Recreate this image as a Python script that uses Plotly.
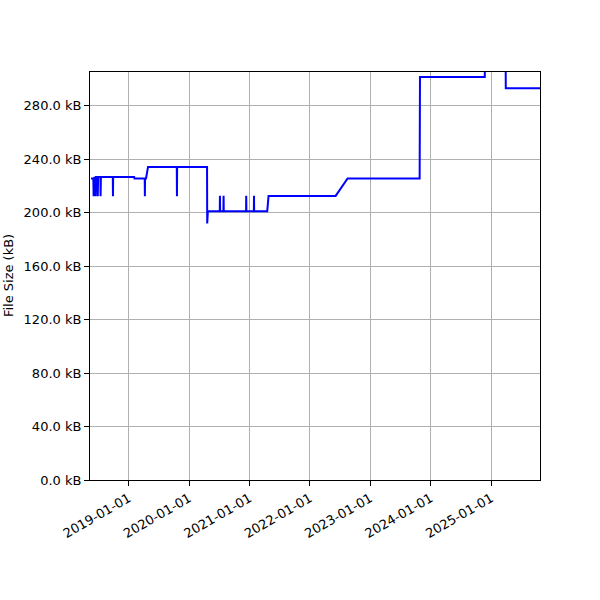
import plotly.graph_objects as go

# file size history (kB)
dates = [
    "2018-05-18", "2018-06-01", "2018-06-03", "2018-06-05", "2018-06-06", "2018-06-08",
    "2018-06-09", "2018-06-11", "2018-06-12", "2018-06-14", "2018-06-15", "2018-06-17",
    "2018-06-27", "2018-06-28", "2018-06-30", "2018-07-14", "2018-07-15", "2018-07-17",
    "2018-09-27", "2018-09-28", "2018-09-29", "2019-02-03", "2019-02-05", "2019-04-08",
    "2019-04-09", "2019-04-10", "2019-04-16", "2019-04-28", "2019-10-19", "2019-10-20",
    "2019-10-21", "2020-04-19", "2020-04-20", "2020-04-24", "2020-07-05", "2020-07-06",
    "2020-07-07", "2020-07-27", "2020-07-28", "2020-07-29", "2020-12-11", "2020-12-12",
    "2020-12-13", "2021-01-27", "2021-01-28", "2021-01-29", "2021-04-18", "2021-04-19",
    "2021-04-26", "2022-06-06", "2022-08-17", "2023-10-27", "2023-10-29", "2024-11-24",
    "2024-11-26", "2025-03-30", "2025-03-31", "2025-10-24",
]
sizes_kb = [
    225.6, 225.6, 212.3, 226.8, 212.3, 226.8,
    212.3, 226.8, 212.3, 226.8, 212.3, 226.8,
    226.8, 212.3, 226.8, 226.8, 212.3, 226.8,
    226.8, 212.3, 226.8, 226.8, 225.6, 225.6,
    212.3, 225.6, 225.6, 234.3, 234.3, 212.3,
    234.3, 234.3, 191.9, 201.1, 201.1, 212.6,
    201.1, 201.1, 212.6, 201.1, 201.1, 212.6,
    201.1, 201.1, 212.6, 201.1, 201.1, 203.0,
    212.6, 212.6, 225.6, 225.6, 301.6, 301.6,
    320.0, 320.0, 293.1, 293.1,
]

y_ticks = [0, 40, 80, 120, 160, 200, 240, 280]
y_labels = [f"{v:.1f} kB" for v in y_ticks]

fig = go.Figure()
fig.add_trace(go.Scatter(x=dates, y=sizes_kb, mode="lines",
                         line=dict(color="blue", width=2), showlegend=False))

axis_common = dict(showline=True, mirror=True, linecolor="black", linewidth=1,
                   ticks="outside", ticklen=5, tickcolor="black",
                   showgrid=True, gridcolor="#b0b0b0", gridwidth=1,
                   zeroline=False, tickfont=dict(size=13, color="black"))

fig.update_xaxes(type="date", range=["2018-05-12", "2025-10-24"],
                 tickvals=[f"{y}-01-01" for y in range(2019, 2026)],
                 tickformat="%Y-%m-%d", tickangle=-30, **axis_common)
fig.update_yaxes(range=[0, 305.3], tickvals=y_ticks, ticktext=y_labels, **axis_common)

fig.add_annotation(text="File Size (kB)", xref="paper", yref="paper",
                   x=-0.182, y=0.5, xanchor="center", yanchor="middle",
                   textangle=-90, showarrow=False, font=dict(size=13, color="black"))

fig.update_layout(width=600, height=600, margin=dict(l=90, r=60, t=72, b=120),
                  plot_bgcolor="white", paper_bgcolor="white",
                  font=dict(family="DejaVu Sans", size=13, color="black"))

# drop the default page margin so the figure sits at the window's corner
fig.write_html("out.html", config={"displayModeBar": False},
               post_script="document.body.style.margin='0';")
